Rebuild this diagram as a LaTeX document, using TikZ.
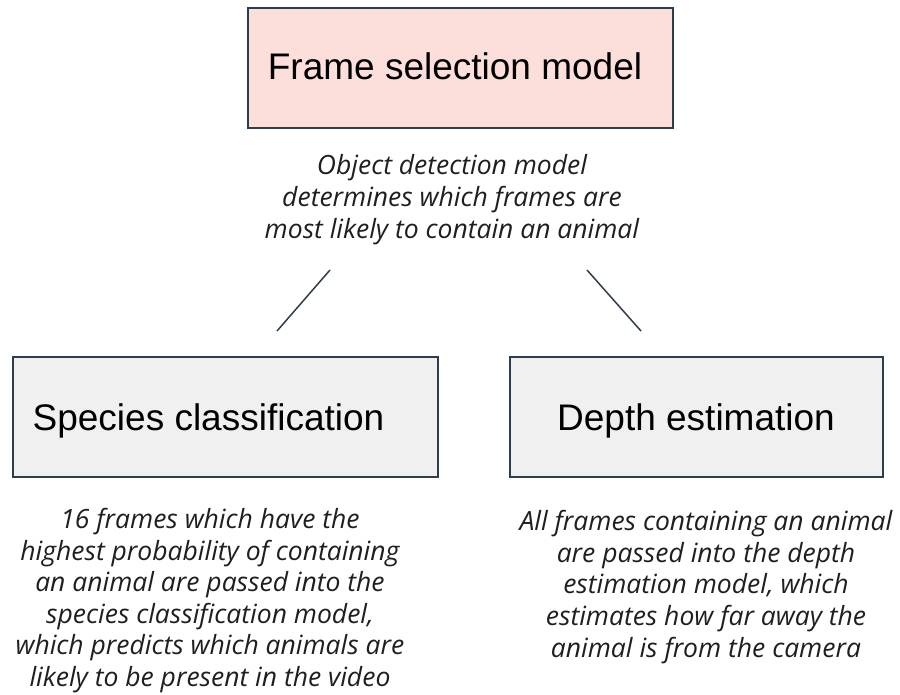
\documentclass[tikz,border=0pt]{standalone}
\usepackage{fontspec}
\setmainfont{Liberation Sans}
\newfontfamily\capfont{Open Sans}
\definecolor{edgec}{HTML}{2E3D4E}
\definecolor{pinkc}{HTML}{FCDFDB}
\definecolor{grayc}{HTML}{F0F0F0}
\definecolor{textc}{HTML}{1F1F1F}
\begin{document}
\begin{tikzpicture}[x=1pt,y=-1pt,
  boxstyle/.style={draw=edgec,line width=1.5pt,rectangle,inner sep=0pt},
  boxtext/.style={font=\fontsize{37}{40}\selectfont,text=black,inner sep=0pt,anchor=base},
  capstyle/.style={align=center,font=\capfont\itshape\fontsize{26.5}{31.6}\selectfont,text=textc,inner sep=0pt,anchor=base},
  linkstyle/.style={draw=edgec,line width=1.5pt}]
\useasboundingbox (0,0) rectangle (900,694);
\node[boxstyle,fill=pinkc,minimum width=425pt,minimum height=120pt] (top) at (460.5,68) {};
\node[boxstyle,fill=grayc,minimum width=425pt,minimum height=120pt] (left) at (225.5,417) {};
\node[boxstyle,fill=grayc,minimum width=373pt,minimum height=120pt] (right) at (696.5,417) {};
\node[boxtext] (toptext) at (455,79) {Frame selection model};
\node[boxtext] (lefttext) at (208.5,430) {Species classification};
\node[boxtext] (righttext) at (696,430) {Depth estimation};
\node[capstyle] (topcap) at (452,238) {Object detection model\\determines which frames are\\most likely to contain an animal};
\node[capstyle] (leftcap) at (210,686.5) {16 frames which have the\\highest probability of containing\\an animal are passed into the\\species classification model,\\which predicts which animals are\\likely to be present in the video};
\node[capstyle] (rightcap) at (706,657) {All frames containing an animal\\are passed into the depth\\estimation model, which\\estimates how far away the\\animal is from the camera};
\coordinate (l1) at (330,270);
\coordinate (l2) at (277,331);
\coordinate (r1) at (587,270);
\coordinate (r2) at (641,331);
\draw[linkstyle] (l1) -- (l2);
\draw[linkstyle] (r1) -- (r2);
\end{tikzpicture}
\end{document}
